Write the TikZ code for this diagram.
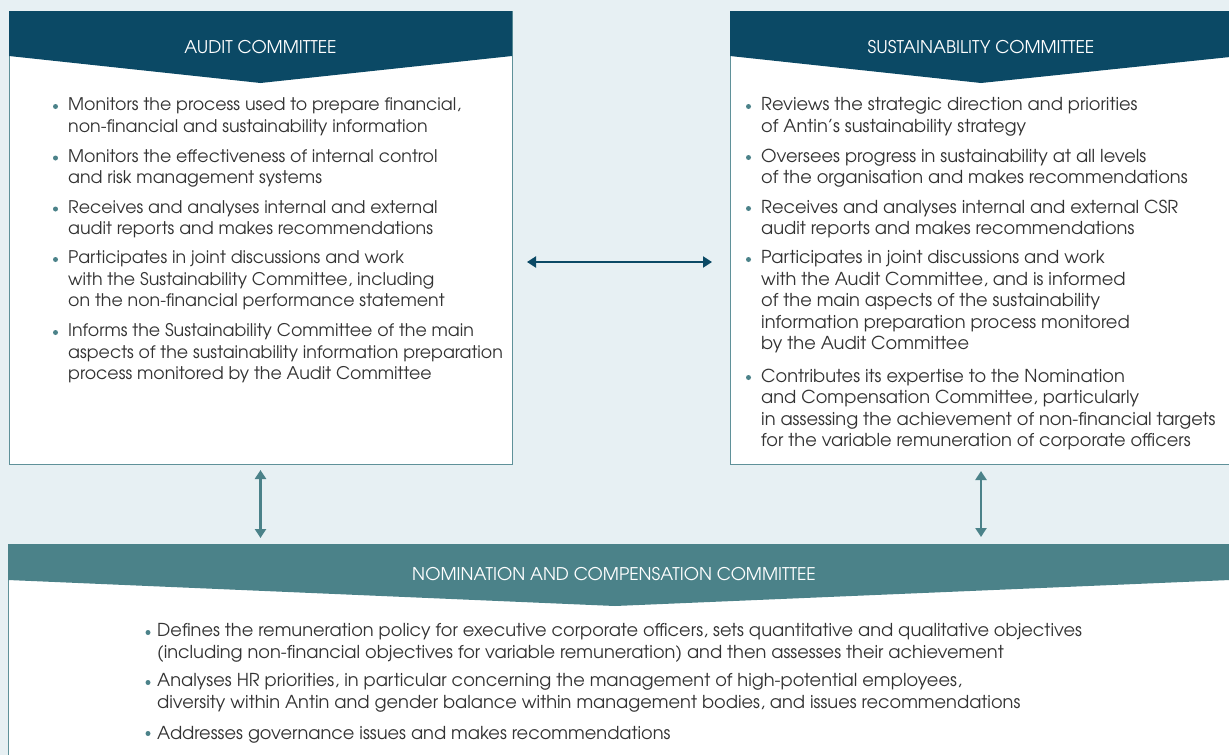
\documentclass[tikz,border=0pt]{standalone}
\usepackage{fontspec}
\setmainfont{TeX Gyre Adventor}
\usetikzlibrary{arrows.meta,calc}
\definecolor{bgc}{HTML}{E7F0F3}
\definecolor{navy}{HTML}{0B4965}
\definecolor{tealc}{HTML}{4B8289}
\definecolor{bordc}{HTML}{5F9199}
\definecolor{txtc}{HTML}{333333}
\newcommand\bulletat[2]{\fill[tealc] ($(#1.north west)+(#2,9.05)$) circle (2.5pt);}
\begin{document}
\begin{tikzpicture}[x=1pt,y=-1pt,
  box/.style={draw=bordc, line width=1pt, fill=white, inner sep=0pt, outer sep=0pt, anchor=north west},
  body/.style={font=\fontsize{17.8}{21.5}\selectfont, text=txtc, align=left, inner sep=0pt, anchor=north west, yshift=15.05pt, execute at begin node=\strut},
  abody/.style={body, font=\fontsize{17.4}{21.5}\selectfont},
  head/.style={font=\fontsize{17.5}{20}\selectfont, text=white, inner sep=0pt},
  darr/.style={draw=navy, line width=2pt, {Triangle[length=9pt,width=11pt]}-{Triangle[length=9pt,width=11pt]}},
  tarr/.style={draw=tealc, line width=2.6pt, {Triangle[length=9pt,width=11pt]}-{Triangle[length=9pt,width=11pt]}}]
\useasboundingbox (0,0) rectangle (1229,755);
\clip (0,0) rectangle (1229,755);
\fill[bgc] (0,0) rectangle (1229,755);

% boxes
\node[box, minimum width=503pt, minimum height=453pt] (audit) at (9,11) {};
\node[box, minimum width=500pt, minimum height=453pt] (sust) at (730,11) {};
\node[box, minimum width=1222pt, minimum height=300pt] (nom) at (8,544) {};

% headers
\fill[navy] (audit.north west) -- (audit.north east) -- ($(audit.north east)+(0,45)$)
  -- ($(audit.north)+(0,72)$) -- ($(audit.north west)+(0,45)$) -- cycle;
\fill[navy] (sust.north west) -- (sust.north east) -- ($(sust.north east)+(0,46)$)
  -- ($(sust.north west)+(251,72)$) -- ($(sust.north west)+(0,45)$) -- cycle;
\fill[tealc] (nom.north west) -- (nom.north east) -- ($(nom.north east)+(0,36)$)
  -- ($(nom.north west)+(607,62)$) -- ($(nom.north west)+(0,36)$) -- cycle;

\node[head] (auditT) at ($(audit.north)+(0,36)$) {AUDIT COMMITTEE};
\node[head] (sustT) at ($(sust.north west)+(251,36)$) {SUSTAINABILITY COMMITTEE};
\node[head] (nomT) at ($(nom.north west)+(606,30)$) {NOMINATION AND COMPENSATION COMMITTEE};

% audit bullets
\node[abody] (a1) at (68,112.5) {Monitors the process used to prepare financial,\\non-financial and sustainability information};
\node[abody] (a2) at (68,164) {Monitors the effectiveness of internal control\\and risk management systems};
\node[abody] (a3) at (68,215) {Receives and analyses internal and external\\audit reports and makes recommendations};
\node[abody] (a4) at (68,265.5) {Participates in joint discussions and work\\with the Sustainability Committee, including\\on the non-financial performance statement};
\node[abody] (a5) at (68,338.5) {Informs the Sustainability Committee of the main\\aspects of the sustainability information preparation\\process monitored by the Audit Committee};
\foreach \n in {a1,a2,a3,a4,a5} {\bulletat{\n}{-12.5}}

% sustainability bullets
\node[body] (s1) at (761,112.5) {Reviews the strategic direction and priorities\\of Antin's sustainability strategy};
\node[body] (s2) at (761,163.5) {Oversees progress in sustainability at all levels\\of the organisation and makes recommendations};
\node[body] (s3) at (761,214.5) {Receives and analyses internal and external CSR\\audit reports and makes recommendations};
\node[body] (s4) at (761,265.5) {Participates in joint discussions and work\\with the Audit Committee, and is informed\\of the main aspects of the sustainability\\information preparation process monitored\\by the Audit Committee};
\node[body] (s5) at (761,383.5) {Contributes its expertise to the Nomination\\and Compensation Committee, particularly\\in assessing the achievement of non-financial targets\\for the variable remuneration of corporate officers};
\foreach \n in {s1,s2,s3,s4,s5} {\bulletat{\n}{-12.5}}

% nomination bullets
\node[body] (n1) at (157,638.5) {Defines the remuneration policy for executive corporate officers, sets quantitative and qualitative objectives\\(including non-financial objectives for variable remuneration) and then assesses their achievement};
\node[body] (n2) at (157,688.5) {Analyses HR priorities, in particular concerning the management of high-potential employees,\\diversity within Antin and gender balance within management bodies, and issues recommendations};
\node[body] (n3) at (157,739.5) {Addresses governance issues and makes recommendations};
\foreach \n in {n1,n2,n3} {\bulletat{\n}{-9}}

% connectors
\draw[darr] ($(audit.east)+(15,24.5)$) -- ($(sust.west)+(-18,24.5)$);
\draw[tarr] ($(audit.south)+(0,6)$) -- ($(audit.south |- nom.north)+(0,-6)$);
\draw[tarr] ($(sust.south)+(1,7)$) -- ($(sust.south |- nom.north)+(1,-7)$);
\end{tikzpicture}
\end{document}
